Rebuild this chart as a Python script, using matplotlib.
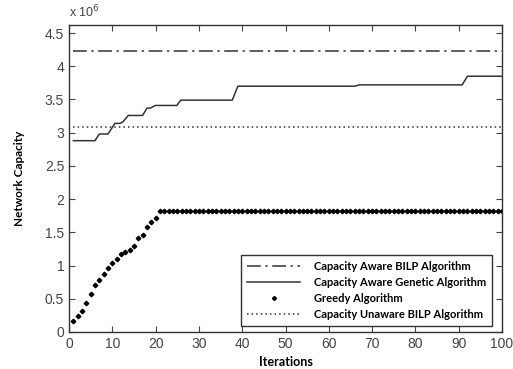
import numpy as np
import matplotlib.pyplot as plt

# values in units of 1e6
bilp_aware = 4.23
bilp_unaware = 3.09

genetic_iter = [1, 6, 7, 9, 10.6, 11.8, 12.4, 13.7, 17, 18, 18.8, 19.9, 24.9, 25.8,
                37.7, 39, 66, 67, 90.8, 92, 100]
genetic_val = [2.88, 2.88, 2.98, 2.98, 3.14, 3.14, 3.16, 3.26, 3.26, 3.37, 3.37, 3.41,
               3.41, 3.49, 3.49, 3.70, 3.70, 3.72, 3.72, 3.85, 3.85]

greedy_iter = list(range(1, 101))
greedy_val = [0.17, 0.24, 0.31, 0.44, 0.57, 0.71, 0.79, 0.88, 0.96, 1.04,
              1.10, 1.17, 1.20, 1.24, 1.29, 1.42, 1.46, 1.58, 1.65, 1.71] + [1.82] * 80

line_col = '#333333'
tick_col = '#444444'

fig = plt.figure(figsize=(5.13, 3.69), dpi=100)
ax = fig.add_axes([0.1345, 0.1003, 0.8441, 0.8317])

ax.plot([1, 100], [bilp_aware, bilp_aware], color=line_col, lw=1.1,
        dashes=(9, 3, 1.5, 3), label='Capacity Aware BILP Algorithm')
ax.plot(genetic_iter, genetic_val, color=line_col, lw=1.1,
        label='Capacity Aware Genetic Algorithm')
ax.plot(greedy_iter, greedy_val, ls='none', marker='D', ms=2.3, color='black',
        label='Greedy Algorithm')
ax.plot([1, 100], [bilp_unaware, bilp_unaware], color=line_col, lw=1.1,
        dashes=(1, 2), label='Capacity Unaware BILP Algorithm')

ax.set_xlim(0, 100)
ax.set_ylim(0, 4.62)
ax.set_xticks(np.arange(0, 101, 10))
ax.set_yticks(np.arange(0, 4.6, 0.5))
ax.set_yticklabels(['0', '0.5', '1', '1.5', '2', '2.5', '3', '3.5', '4', '4.5'])
ax.tick_params(direction='in', top=True, right=True, length=4, width=0.8,
               labelsize=10, colors=tick_col, labelcolor=tick_col)
for lab in ax.get_xticklabels() + ax.get_yticklabels():
    lab.set_family('Liberation Sans')
for sp in ax.spines.values():
    sp.set_color(line_col)
    sp.set_linewidth(1.0)

ax.text(0.0, 1.015, r'x 10$^6$', transform=ax.transAxes, fontsize=9,
        family='Liberation Sans', color=tick_col, va='bottom', ha='left')

ax.set_xlabel('Iterations', fontsize=9, fontweight='bold', family='Lato', labelpad=4)
ax.set_ylabel('Network Capacity', fontsize=8.5, fontweight='bold', family='Lato', labelpad=14)

leg = ax.legend(loc='lower right', bbox_to_anchor=(0.977, 0.0195), borderaxespad=0,
                fancybox=False, edgecolor=line_col, framealpha=1, numpoints=1,
                markerscale=0.9,
                prop={'family': 'Lato', 'weight': 'bold', 'size': 8},
                handlelength=4.8, handletextpad=1.2, labelspacing=0.45, borderpad=0.55)
leg.get_frame().set_linewidth(1.0)

fig.savefig('out.png', dpi=100)
